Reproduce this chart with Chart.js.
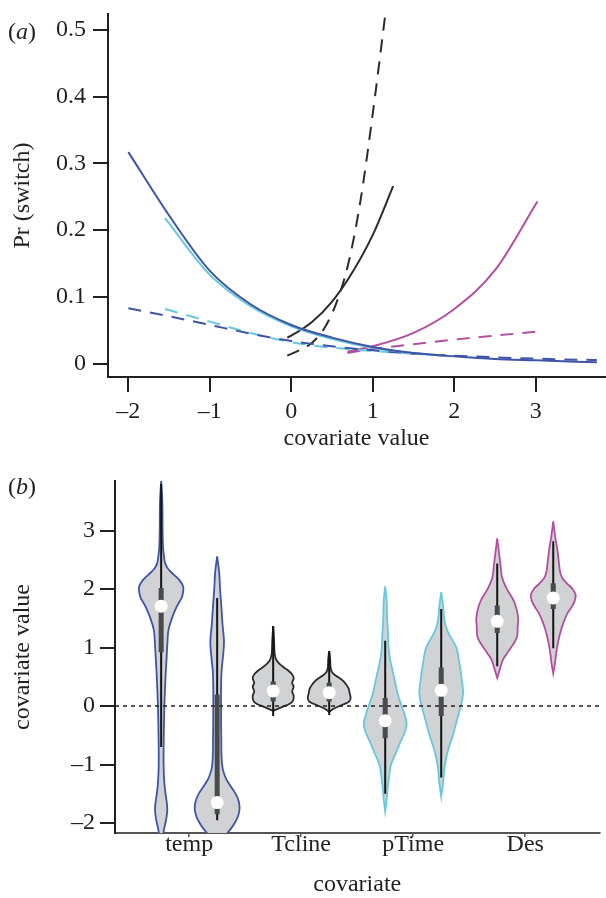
<!DOCTYPE html>
<html>
<head>
<meta charset="utf-8">
<script src="https://cdn.jsdelivr.net/npm/chart.js@4.4.1/dist/chart.umd.min.js"></script>
<style>
body{margin:0;background:#fff;width:606px;height:898px;position:relative;overflow:hidden;font-family:'Liberation Serif',serif;color:#231f20}
#ca{position:absolute;left:0;top:0}
#cb{position:absolute;left:0;top:455px}
.lab{position:absolute;left:8px;font-size:24px;line-height:24px}
</style>
</head>
<body>
<canvas id="ca" width="606" height="455"></canvas>
<canvas id="cb" width="606" height="443"></canvas>
<div class="lab" style="top:19px">(<i>a</i>)</div>
<div class="lab" style="top:474px">(<i>b</i>)</div>
<script>
// ---- panel (a): Pr(switch) against covariate value ----
var aXTicks = [-2, -1, 0, 1, 2, 3];
var aYTicks = [0, 0.1, 0.2, 0.3, 0.4, 0.5];

var tempX = [-2, -1.5, -1, -0.5, 0, 0.5, 1, 1.5, 2, 2.5, 3, 3.5, 3.75];
var tempSolid = [0.317, 0.222, 0.139, 0.089, 0.058, 0.039, 0.025, 0.016, 0.011, 0.007, 0.005, 0.003, 0.002];
var tempDash = [0.083, 0.071, 0.058, 0.045, 0.034, 0.026, 0.020, 0.015, 0.012, 0.0095, 0.0075, 0.006, 0.0055];

var ptimeX = [-1.55, -1, -0.5, 0, 0.5, 1, 1.5, 1.85];
var ptimeSolid = [0.218, 0.133, 0.086, 0.056, 0.037, 0.024, 0.016, 0.012];
var ptimeDashX = [-1.55, -1, -0.5, 0, 0.5, 1, 1.5, 1.7];
var ptimeDash = [0.082, 0.063, 0.046, 0.032, 0.024, 0.019, 0.015, 0.014];

var tclineX = [-0.05, 0, 0.25, 0.5, 0.75, 1, 1.25];
var tclineSolid = [0.039, 0.042, 0.062, 0.093, 0.137, 0.193, 0.266];
var tclineDashX = [-0.05, 0.1, 0.25, 0.4, 0.55, 0.7, 0.85, 1, 1.15];
var tclineDash = [0.012, 0.020, 0.031, 0.052, 0.090, 0.150, 0.245, 0.375, 0.52];

var desX = [0.69, 1, 1.5, 2, 2.5, 3.02];
var desSolid = [0.018, 0.026, 0.046, 0.082, 0.140, 0.243];
var desDash = [0.016, 0.022, 0.029, 0.036, 0.042, 0.048];

// ---- panel (b): violins of covariate values ----
var bCats = ['temp', 'Tcline', 'pTime', 'Des'];
var bYTicks = [-2, -1, 0, 1, 2, 3];

// density profiles, top to bottom (y level, relative width)
var tempLeftY = [3.85, 3.5, 3.0, 2.7, 2.55, 2.45, 2.35, 2.25, 2.15, 2.05, 1.95, 1.85, 1.7, 1.5, 1.3, 1.1, 0.8, 0.5, 0.0, -0.5, -1.0, -1.3, -1.5, -1.75, -1.95, -2.1, -2.25, -2.35];
var tempLeftD = [0, 1.2, 1.5, 2, 3, 4, 7, 13, 19, 22.5, 22.5, 21, 16, 11, 7.5, 6.5, 5.5, 4.5, 3.3, 2.7, 2.5, 3.2, 4.5, 6.3, 5, 3, 1.5, 0];
var tempRightY = [2.56, 2.3, 2.0, 1.7, 1.4, 1.1, 0.85, 0.6, 0.3, 0.0, -0.5, -1.0, -1.2, -1.35, -1.5, -1.62, -1.75, -1.88, -2.0, -2.1, -2.2, -2.3, -2.38];
var tempRightD = [0, 2, 3, 4.3, 5.5, 7, 6, 4.5, 4, 4, 4.2, 5, 8, 13, 19, 22, 23, 21.5, 18, 14, 9, 5, 0];

var tclineLeftY = [1.37, 1.1, 0.9, 0.8, 0.73, 0.66, 0.6, 0.53, 0.47, 0.4, 0.33, 0.25, 0.18, 0.1, 0.04, -0.01, -0.06, -0.08];
var tclineLeftD = [0, 1, 1.5, 3, 6, 11, 16, 20, 21, 19.5, 21, 19.5, 21, 20.5, 17, 10, 3, 0];
var tclineRightY = [0.94, 0.8, 0.65, 0.58, 0.52, 0.45, 0.38, 0.3, 0.22, 0.14, 0.08, 0.02, -0.05, -0.1];
var tclineRightD = [0, 1, 1.5, 3, 7, 13, 17, 20, 21, 22, 20.5, 13, 4, 0];

var ptimeLeftY = [2.05, 1.8, 1.5, 1.2, 1.0, 0.8, 0.5, 0.2, 0.0, -0.15, -0.3, -0.45, -0.6, -0.8, -1.0, -1.2, -1.4, -1.6, -1.8];
var ptimeLeftD = [0, 1.5, 2, 3, 3.5, 5, 9, 13, 17, 20, 22, 20, 16, 11, 6, 4, 2.5, 1.5, 0];
var ptimeRightY = [1.95, 1.7, 1.5, 1.35, 1.2, 1.0, 0.8, 0.6, 0.4, 0.25, 0.1, 0.0, -0.25, -0.5, -0.7, -0.9, -1.1, -1.3, -1.55];
var ptimeRightD = [0, 2, 3, 5, 9, 15.5, 18, 20, 21.5, 22.5, 21.5, 20, 16, 12, 8, 5, 3, 2, 0];

var desLeftY = [2.87, 2.6, 2.4, 2.2, 2.0, 1.8, 1.65, 1.5, 1.35, 1.2, 1.1, 1.0, 0.9, 0.8, 0.65, 0.48];
var desLeftD = [0, 2, 3.5, 5, 10, 17, 20, 21.5, 21, 20.5, 18, 14, 10, 6, 3, 0];
var desRightY = [3.16, 2.9, 2.7, 2.5, 2.3, 2.2, 2.1, 2.0, 1.9, 1.8, 1.7, 1.6, 1.45, 1.3, 1.1, 0.9, 0.7, 0.56];
var desRightD = [0, 2, 4, 5.5, 7, 9, 14, 20, 23, 22, 19, 15, 11, 8, 5, 3, 1.5, 0];

// box stats: whisker low, q1, median, q3, whisker high
var tempLeftBox = [-0.7, 0.92, 1.71, 2.02, 3.8];
var tempRightBox = [-1.95, -1.85, -1.65, 0.2, 1.85];
var tclineLeftBox = [-0.17, 0.08, 0.26, 0.42, 1.37];
var tclineRightBox = [-0.15, 0.08, 0.23, 0.4, 0.94];
var ptimeLeftBox = [-1.5, -0.55, -0.25, 0.14, 1.12];
var ptimeRightBox = [-1.22, -0.17, 0.27, 0.66, 1.66];
var desLeftBox = [0.68, 1.25, 1.45, 1.72, 2.44];
var desRightBox = [0.99, 1.66, 1.85, 2.1, 2.82];

var colTemp = '#3f54a6', colTcline = '#2b2b2b', colPtime = '#66c9dc', colDes = '#b44fa0';
var ink = '#231f20';

Chart.defaults.font.family = "'Liberation Serif', 'Times New Roman', serif";
Chart.defaults.font.size = 24;
Chart.defaults.color = ink;

function minus(v) { return v < 0 ? '\u2013' + Math.abs(v) : String(v); }
function pairs(xs, ys) {
	var out = [];
	for (var i = 0; i < xs.length; i++) out.push({x: xs[i], y: ys[i]});
	return out;
}
function curve(xs, ys, col, dashed) {
	return {
		data: pairs(xs, ys), borderColor: col, borderWidth: 2,
		borderDash: dashed ? [13, 9] : [], pointRadius: 0,
		cubicInterpolationMode: 'monotone', fill: false
	};
}
function fixedTicks(list) {
	return function(s) { s.ticks = list.map(function(v) { return {value: v}; }); };
}
function fitW(w) { return function(s) { s.width = w; s.paddingTop = 0; s.paddingBottom = 0; }; }
function fitH(h) { return function(s) { s.height = h; s.paddingLeft = 0; s.paddingRight = 0; }; }

new Chart(document.getElementById('ca'), {
	type: 'line',
	data: {
		datasets: [
			curve(tempX, tempSolid, colTemp, false),
			curve(ptimeX, ptimeSolid, colPtime, false),
			curve(tempX, tempDash, colTemp, true),
			curve(ptimeDashX, ptimeDash, colPtime, true),
			curve(tclineX, tclineSolid, colTcline, false),
			curve(tclineDashX, tclineDash, colTcline, true),
			curve(desX, desSolid, colDes, false),
			curve(desX, desDash, colDes, true)
		]
	},
	options: {
		responsive: false, animation: false, events: [],
		layout: {padding: {top: 14, right: 1, left: 0, bottom: 0}},
		plugins: {legend: {display: false}, tooltip: {enabled: false}},
		scales: {
			x: {
				type: 'linear', min: -2.25, max: 3.85,
				afterBuildTicks: fixedTicks(aXTicks), afterFit: fitH(78),
				border: {color: ink, width: 2},
				grid: {drawOnChartArea: false, tickLength: 15, color: ink, lineWidth: 2},
				ticks: {padding: 5, callback: function(v) { return minus(v); }},
				title: {display: true, text: 'covariate value', padding: {top: 0, bottom: 2}}
			},
			y: {
				min: -0.02, max: 0.524,
				afterBuildTicks: fixedTicks(aYTicks), afterFit: fitW(108),
				border: {color: ink, width: 2},
				grid: {drawOnChartArea: false, tickLength: 15, color: ink, lineWidth: 2},
				ticks: {padding: 7, callback: function(v) { return v === 0 ? '0' : v.toFixed(1); }},
				title: {display: true, text: 'Pr (switch)', padding: {top: 8, bottom: 0}}
			}
		}
	}
});

// violins
var bXMin = 0.338, bXMax = 4.663;
var offset = 0.25, halfW = 0.2;
var allD = [tempLeftD, tempRightD, tclineLeftD, tclineRightD, ptimeLeftD, ptimeRightD, desLeftD, desRightD];
var dMax = Math.max.apply(null, allD.map(function(a) { return Math.max.apply(null, a); }));

function violinPoints(ys, ds, c) {
	var pts = [];
	for (var i = 0; i < ys.length; i++) pts.push({x: c + ds[i] / dMax * halfW, y: ys[i]});
	for (var j = ys.length - 1; j >= 0; j--) pts.push({x: c - ds[j] / dMax * halfW, y: ys[j]});
	return pts;
}

var groups = [
	[tempLeftY, tempLeftD, tempLeftBox, 1 - offset, colTemp],
	[tempRightY, tempRightD, tempRightBox, 1 + offset, colTemp],
	[tclineLeftY, tclineLeftD, tclineLeftBox, 2 - offset, colTcline],
	[tclineRightY, tclineRightD, tclineRightBox, 2 + offset, colTcline],
	[ptimeLeftY, ptimeLeftD, ptimeLeftBox, 3 - offset, colPtime],
	[ptimeRightY, ptimeRightD, ptimeRightBox, 3 + offset, colPtime],
	[desLeftY, desLeftD, desLeftBox, 4 - offset, colDes],
	[desRightY, desRightD, desRightBox, 4 + offset, colDes]
];

var bSets = [];
groups.forEach(function(g) {
	var c = g[3], st = g[2];
	bSets.push({
		data: violinPoints(g[0], g[1], c), borderColor: g[4], borderWidth: 1.8,
		backgroundColor: '#d1d2d4', fill: 'shape', tension: 0.4, pointRadius: 0, order: 4
	});
	bSets.push({
		data: [{x: c, y: st[0]}, {x: c, y: st[4]}], borderColor: '#141414',
		borderWidth: 2, pointRadius: 0, order: 2
	});
	bSets.push({
		data: [{x: c, y: st[1]}, {x: c, y: st[3]}], borderColor: '#4a4a4a',
		borderWidth: 5, borderCapStyle: 'butt', pointRadius: 0, order: 1
	});
	bSets.push({
		data: [{x: c, y: st[2]}], showLine: false, pointRadius: 6.5,
		pointBackgroundColor: '#ffffff', pointBorderWidth: 0, order: 0
	});
});
// dotted reference at zero
bSets.push({
	data: [{x: bXMin, y: 0}, {x: bXMax, y: 0}], borderColor: ink, borderWidth: 1.5,
	borderDash: [4, 4], pointRadius: 0, order: 3
});

new Chart(document.getElementById('cb'), {
	type: 'line',
	data: {datasets: bSets},
	options: {
		responsive: false, animation: false, events: [],
		layout: {padding: {top: 26, right: 1, left: 0, bottom: 0}},
		plugins: {legend: {display: false}, tooltip: {enabled: false}},
		scales: {
			x: {
				type: 'linear', min: bXMin, max: bXMax,
				afterBuildTicks: fixedTicks([1, 2, 3, 4]), afterFit: fitH(65),
				border: {color: '#555', width: 2},
				grid: {drawOnChartArea: false, tickLength: 4, color: '#555', lineWidth: 1.5},
				ticks: {padding: -7, callback: function(v) { return bCats[v - 1]; }},
				title: {display: true, text: 'covariate', font: {lineHeight: 1.1}, padding: 0}
			},
			y: {
				min: -2.17, max: 3.85,
				afterBuildTicks: fixedTicks(bYTicks), afterFit: fitW(115),
				border: {color: ink, width: 2},
				grid: {drawOnChartArea: false, tickLength: 15, color: ink, lineWidth: 2},
				ticks: {padding: 5, callback: function(v) { return minus(v); }},
				title: {display: true, text: 'covariate value', padding: {top: 8, bottom: 0}}
			}
		}
	}
});
</script>
</body>
</html>
